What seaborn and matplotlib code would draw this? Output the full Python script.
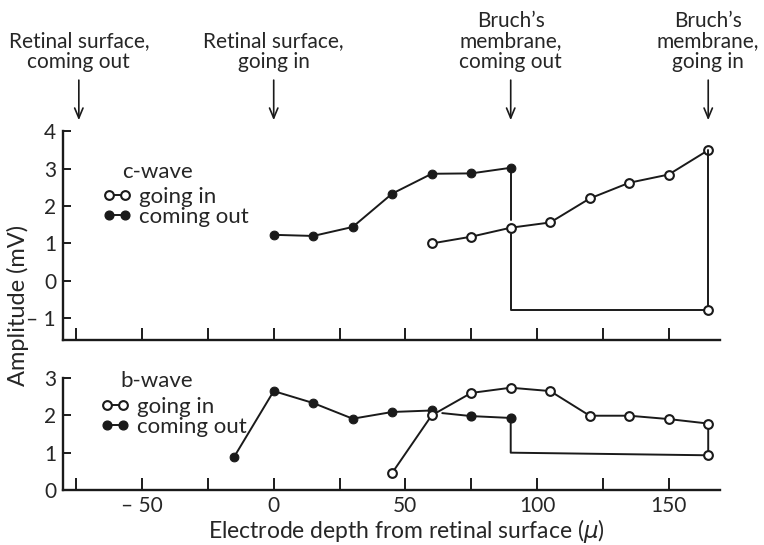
import pandas as pd
import matplotlib.pyplot as plt
import seaborn as sns
from matplotlib.lines import Line2D

sns.set_theme(style='ticks')
plt.rcParams['font.family'] = ['Lato', 'DejaVu Sans']

# c-wave, amplitude in mV against electrode depth (micron)
c_in_x = [60, 75, 90, 105, 120, 135, 150, 165]
c_in_y = [1.0, 1.18, 1.42, 1.56, 2.2, 2.62, 2.84, 3.49]
c_out_x = [0, 15, 30, 45, 60, 75, 90]
c_out_y = [1.23, 1.2, 1.44, 2.33, 2.86, 2.87, 3.02]
# withdrawal trace: down at Bruch's membrane, back along the bottom
c_back_x = [90, 90, 165, 165]
c_back_y = [1.25, -0.78, -0.78, 3.49]
c_gap_x = [90, 90]
c_gap_y = [3.02, 1.62]

# b-wave
b_in_x = [45, 60, 75, 90, 105, 120, 135, 150, 165]
b_in_y = [0.46, 2.0, 2.6, 2.74, 2.65, 1.99, 1.99, 1.9, 1.78]
b_out_x = [-15, 0, 15, 30, 45, 60]
b_out_y = [0.89, 2.65, 2.33, 1.91, 2.09, 2.13]
b_out2_x = [64, 75, 90]
b_out2_y = [2.06, 1.98, 1.93]
b_back_x = [90, 90, 165, 165]
b_back_y = [1.93, 1.0, 0.93, 1.78]

x_ticks = [-75, -50, -25, 0, 25, 50, 75, 100, 125, 150]
x_ticklabels = ['', '\u2013 50', '', '0', '', '50', '', '100', '', '150']
c_yticks = [-1, 0, 1, 2, 3, 4]
c_yticklabels = ['\u2013 1', '0', '1', '2', '3', '4']
b_yticks = [0, 1, 2, 3]

arrow_x = [-74, 0, 90, 165]
arrow_text = ['Retinal surface,\ncoming out', 'Retinal surface,\ngoing in',
              "Bruch\u2019s\nmembrane,\ncoming out", "Bruch\u2019s\nmembrane,\ngoing in"]

fig = plt.figure(figsize=(7.64, 5.45), dpi=100)
ax1 = fig.add_axes([0.0825, 0.376, 0.86, 0.3835])
ax2 = fig.add_axes([0.0825, 0.1009, 0.86, 0.2055])

lw = 1.4
ms = 6.3
open_kw = dict(color='k', lw=lw, marker='o', markersize=ms, markerfacecolor='white',
               markeredgecolor='k', markeredgewidth=1.5)
fill_kw = dict(color='k', lw=lw, marker='o', markersize=ms, markerfacecolor='k',
               markeredgecolor='k')

# c-wave panel
sns.lineplot(x=c_out_x, y=c_out_y, ax=ax1, sort=False, estimator=None, **fill_kw)
sns.lineplot(x=c_in_x, y=c_in_y, ax=ax1, sort=False, estimator=None, **open_kw)
ax1.plot(c_gap_x, c_gap_y, color='k', lw=lw)
ax1.plot(c_back_x, c_back_y, color='k', lw=lw, marker='o', markevery=[2],
         markersize=ms, markerfacecolor='white', markeredgecolor='k', markeredgewidth=1.5)

# b-wave panel
sns.lineplot(x=b_out_x, y=b_out_y, ax=ax2, sort=False, estimator=None, **fill_kw)
ax2.plot(b_out2_x, b_out2_y, color='k', lw=lw, marker='o', markevery=[1, 2],
         markersize=ms, markerfacecolor='k', markeredgecolor='k')
ax2.plot(b_back_x, b_back_y, color='k', lw=lw, marker='o', markevery=[2],
         markersize=ms, markerfacecolor='white', markeredgecolor='k', markeredgewidth=1.5)
sns.lineplot(x=b_in_x, y=b_in_y, ax=ax2, sort=False, estimator=None, **open_kw)

for ax in [ax1, ax2]:
    ax.set_xlim(-80, 169.5)
    ax.set_xticks(x_ticks)
    ax.tick_params(direction='in', length=9, width=1.4, labelsize=15, pad=4, color='k')
    ax.tick_params(axis='y', length=6, pad=5)
    sns.despine(ax=ax, top=True, right=True)
    for s in ['left', 'bottom']:
        ax.spines[s].set_linewidth(1.7)
        ax.spines[s].set_color('k')
    ax.set_xlabel('')
    ax.set_ylabel('')

ax1.set_ylim(-1.58, 4)
ax1.set_yticks(c_yticks)
ax1.set_yticklabels(c_yticklabels)
ax1.set_xticklabels([])

ax2.set_ylim(0, 3)
ax2.set_yticks(b_yticks)
ax2.set_xticklabels(x_ticklabels)

# legends
h_open = Line2D([], [], **open_kw)
h_fill = Line2D([], [], **fill_kw)
for ax, name, top_px, left_px, title_px in [(ax1, 'c-wave', 187, 102, 172),
                                            (ax2, 'b-wave', 397, 100, 381)]:
    ax.legend([h_open, h_fill], ['going in', 'coming out'], numpoints=2, frameon=False,
              loc='upper left', bbox_to_anchor=(left_px / 764, 1 - top_px / 545),
              bbox_transform=fig.transFigure, fontsize=16, handlelength=1.35,
              handletextpad=0.3, labelspacing=0.0, borderpad=0, borderaxespad=0)
    fig.text((left_px + 20) / 764, 1 - title_px / 545, name, fontsize=16,
             ha='left', va='center')

# arrows to the surfaces
for xv, txt in zip(arrow_x, arrow_text):
    ax1.annotate('', xy=(xv, 4.29), xytext=(xv, 5.36), annotation_clip=False,
                 arrowprops=dict(arrowstyle='->,head_length=0.6,head_width=0.25',
                                 color='k', lw=1.2, shrinkA=0, shrinkB=0))
    ax1.text(xv, 5.57, txt, ha='center', va='bottom', fontsize=15, linespacing=1.05,
             clip_on=False)

fig.text(18 / 764, 1 - 305 / 545, 'Amplitude (mV)', rotation=90, fontsize=17,
         ha='center', va='center')
fig.text(406 / 764, 1 - 517 / 545, 'Electrode depth from retinal surface ($\\mu$)',
         fontsize=16.5, ha='center', va='top')

plt.savefig('out.png', dpi=100)
